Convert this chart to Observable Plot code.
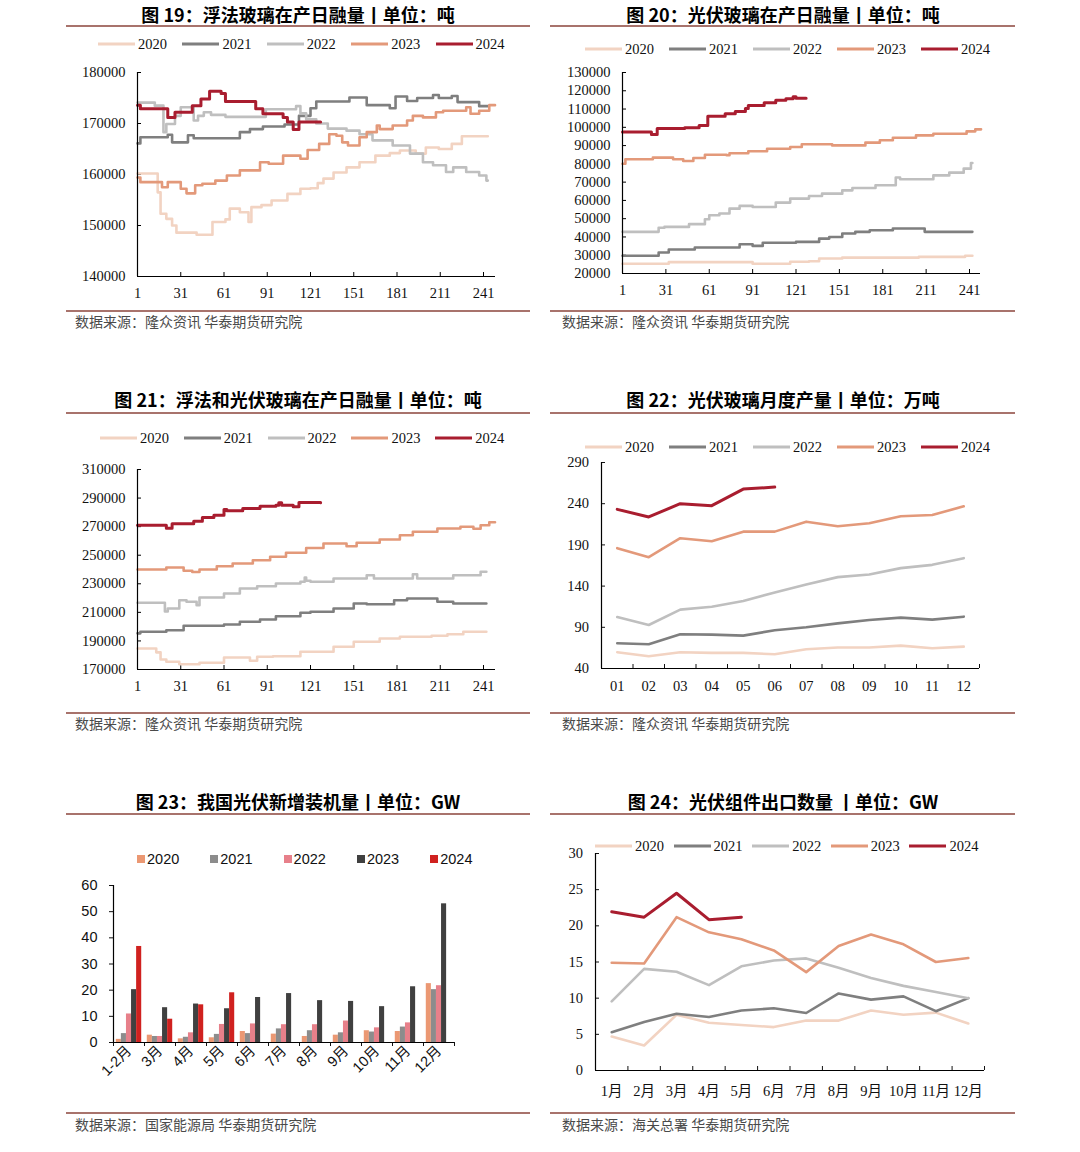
<!DOCTYPE html>
<html><head><meta charset="utf-8">
<script src="https://cdn.jsdelivr.net/npm/d3@7"></script>
<script src="https://cdn.jsdelivr.net/npm/@observablehq/plot@0.6"></script>
<style>
body{margin:0;background:#fff;width:1080px;height:1152px;position:relative;overflow:hidden;font-family:"Noto Sans CJK SC",sans-serif;}
body>div{position:absolute;}
.title{font-weight:700;font-size:18px;color:#000;white-space:nowrap;transform:translate(-50%,-50%);}
.rule{height:2px;background:#A8736C;}
.src{font-size:14px;color:#4a4a4a;white-space:nowrap;transform:translateY(-50%);}
.leg{font-family:"Liberation Serif",serif;font-size:14.5px;color:#111;white-space:nowrap;transform:translateY(-50%);display:flex;align-items:center;}
.leg .sw{display:inline-block;width:37px;height:3px;margin-right:3px;}
.legb{font-family:"Liberation Sans",Arial,sans-serif;font-size:14.5px;color:#111;white-space:nowrap;transform:translateY(-50%);display:flex;align-items:center;}
.legb .sq{display:inline-block;width:8px;height:8px;margin-right:2px;}
</style></head><body>
<script>
// ---------- shared categories ----------
const years = ["2020","2021","2022","2023","2024"];
const lineColors = ["#F2D3C2","#7F7F7F","#BFBFBF","#E3997A","#A91D2F"];
const barColors = ["#EB9873","#8C8C8C","#E7808A","#404040","#D0211F"];
const dayTicks = [1,31,61,91,121,151,181,211,241];

// ---------- 图19 浮法玻璃在产日融量 (day, tons) ----------
const f19_2020 = [[1,160200],[15,156500],[17,152300],[21,151300],[25,150000],[28,148600],[42,148200],[53,150700],[62,151200],[65,153300],[72,152600],[78,150700],[80,153600],[87,154000],[94,154900],[105,156200],[114,157200],[121,157300],[126,158300],[130,159200],[137,160400],[146,161400],[155,162400],[166,163700],[176,164200],[183,164700],[194,164100],[201,165300],[210,165000],[219,166000],[226,167500],[244,167500]];
const f19_2021 = [[1,166100],[3,167300],[22,167800],[25,166300],[36,167700],[40,167100],[72,168300],[79,168900],[88,169400],[103,169800],[113,171500],[121,173000],[125,174300],[148,175100],[160,173600],[176,173000],[180,175300],[188,174400],[195,175000],[206,175600],[210,175000],[219,175400],[223,174200],[238,173400],[244,173400]];
const f19_2022 = [[1,174100],[13,173500],[19,168300],[21,169900],[27,171500],[31,173200],[40,170600],[43,171500],[47,172200],[52,171700],[62,171300],[90,172800],[111,173400],[114,172000],[118,170800],[125,170000],[133,169000],[146,168600],[155,167900],[164,166700],[178,165700],[190,164100],[199,162400],[206,161800],[215,160500],[220,161400],[229,160500],[238,159800],[243,158800],[244,158800]];
const f19_2023 = [[1,159400],[3,158500],[18,157500],[22,158500],[31,157200],[35,156300],[41,157900],[46,158200],[55,158800],[63,159800],[72,160800],[86,162400],[92,162100],[102,163700],[114,163100],[119,164800],[127,166000],[134,167900],[139,167600],[143,166300],[147,165700],[155,167300],[160,168300],[167,169600],[169,168900],[178,169600],[188,170600],[192,171500],[199,171200],[208,172200],[213,172500],[229,173200],[232,171900],[238,172500],[245,173600],[249,173600]];
const f19_2024 = [[1,173600],[3,172900],[22,171200],[27,172200],[39,173500],[45,174800],[51,176300],[59,175900],[62,174300],[83,172900],[88,171900],[102,171200],[105,170300],[109,168800],[113,170300],[128,170300]];
const ticks19 = [140000,150000,160000,170000,180000];

// ---------- 图20 光伏玻璃在产日融量 ----------
const f20_2020 = [[1,25300],[33,26200],[91,25300],[117,26400],[130,26700],[137,28200],[153,28700],[206,29100],[238,29700],[243,29700]];
const f20_2021 = [[1,29700],[26,31500],[33,33100],[51,34200],[82,36000],[91,35100],[98,36800],[121,37300],[137,39100],[144,40000],[153,41900],[162,42800],[172,43700],[188,44600],[210,42800],[243,42800]];
const f20_2022 = [[1,42800],[26,45000],[30,45500],[47,47000],[58,49700],[61,51900],[68,52800],[75,55500],[82,57000],[91,56400],[107,58800],[117,61000],[130,62400],[139,63700],[153,65500],[160,66800],[176,68300],[190,72500],[193,71600],[216,73700],[227,75200],[237,77400],[242,80500],[243,80500]];
const f20_2023 = [[1,80100],[3,82500],[22,83400],[36,82500],[43,81600],[50,83200],[58,85000],[73,84700],[75,85800],[88,86900],[101,88300],[117,89200],[125,90700],[146,90100],[169,91600],[179,92900],[188,94300],[204,95600],[216,96500],[239,97800],[245,98900],[249,98900]];
const f20_2024 = [[1,97500],[21,96100],[25,99300],[44,99800],[54,101000],[60,106000],[72,107400],[79,108700],[86,110300],[88,112000],[99,113500],[107,114800],[114,115700],[119,116700],[121,115900],[128,115900]];
const ticks20 = [20000,30000,40000,50000,60000,70000,80000,90000,100000,110000,120000,130000];

// ---------- 图21 浮法和光伏玻璃在产日融量 ----------
const f21_2020 = [[1,184700],[14,182000],[17,177000],[21,175400],[30,173700],[44,174700],[61,178400],[79,176100],[84,178900],[95,179300],[114,182400],[137,185900],[151,189400],[169,191700],[183,192900],[205,193600],[216,194700],[227,196400],[243,196400]];
const f21_2021 = [[1,195300],[3,196400],[21,197500],[33,200600],[61,201500],[72,203400],[86,205000],[97,207300],[114,209700],[121,210400],[137,212700],[151,216200],[160,215700],[179,218500],[188,219700],[209,217400],[220,216200],[243,216200]];
const f21_2022 = [[1,216700],[20,210600],[22,212700],[30,218500],[35,217400],[42,215000],[44,220400],[61,223200],[72,226700],[84,228300],[97,230200],[114,231400],[117,234400],[118,232100],[121,231400],[137,233700],[160,236000],[165,233700],[192,236700],[195,233700],[220,236000],[239,238400],[243,238400]];
const f21_2023 = [[1,240000],[21,241400],[33,239100],[39,238200],[44,240000],[56,242300],[67,244200],[81,246500],[93,248900],[104,251700],[118,255000],[130,258200],[146,256300],[153,258700],[169,261000],[183,264000],[192,266400],[209,268700],[225,269900],[234,268500],[239,271000],[245,273100],[249,273100]];
const f21_2024 = [[1,271000],[21,268800],[25,272000],[40,273800],[46,276400],[54,278000],[61,282000],[63,281100],[74,282700],[86,284300],[97,285000],[99,286700],[101,285000],[109,283900],[113,286900],[128,286700]];
const ticks21 = [170000,190000,210000,230000,250000,270000,290000,310000];

// ---------- 图22 光伏玻璃月度产量 (万吨) ----------
const months22 = ["01","02","03","04","05","06","07","08","09","10","11","12"];
const m22_2020 = [59.8,54.9,59.8,59,59,57.3,63.4,65.4,65.4,67.8,64.6,66.6];
const m22_2021 = [70.6,69.4,81.5,81.1,79.9,86.4,90,94.8,98.9,101.7,99.3,102.9];
const m22_2022 = [102.5,92.8,111.4,115,121.9,132.3,142,150.9,154.1,161.8,165.8,173.9];
const m22_2023 = [186,175.1,198.1,194.4,206.1,206.1,218.2,212.6,216.2,224.7,226.3,236.8];
const m22_2024 = [233.1,223.9,240,237.6,257.7,260.2];
const ticks22 = [40,90,140,190,240,290];

// ---------- 图23 我国光伏新增装机量 (GW) ----------
const months23 = ["1-2月","3月","4月","5月","6月","7月","8月","9月","10月","11月","12月"];
const b23_2020 = [1.2,2.8,1.4,1.8,4.2,3.2,2.3,2.8,4.5,4.2,22.5];
const b23_2021 = [3.4,2.3,2.0,3.1,3.4,5.2,4.5,3.7,4.0,5.9,20.2];
const b23_2022 = [10.9,2.3,3.7,6.9,7.1,6.8,6.8,8.2,5.6,7.5,21.7];
const b23_2023 = [20.2,13.3,14.7,12.9,17.2,18.7,16.0,15.7,13.7,21.3,53.0];
const b23_2024 = [36.7,8.9,14.4,19.0];
const ticks23 = [0,10,20,30,40,50,60];

// ---------- 图24 光伏组件出口数量 (GW) ----------
const months24 = ["1月","2月","3月","4月","5月","6月","7月","8月","9月","10月","11月","12月"];
const m24_2020 = [4.7,3.45,7.7,6.6,6.3,6.0,6.9,6.9,8.3,7.7,8.0,6.5];
const m24_2021 = [5.3,6.7,7.85,7.4,8.3,8.6,7.95,10.65,9.8,10.25,8.2,10.0];
const m24_2022 = [9.55,14.05,13.65,11.8,14.4,15.2,15.5,14.2,12.8,11.7,10.85,10.0];
const m24_2023 = [14.9,14.8,21.2,19.1,18.15,16.6,13.6,17.2,18.8,17.45,15.0,15.55];
const m24_2024 = [21.95,21.2,24.5,20.85,21.2];
const ticks24 = [0,5,10,15,20,25,30];

// ---------- layout ----------
const layout = {
  p19:{titleX:298,titleY:13.5,left:66,right:530,ruleTop:26,ruleBot:311,srcX:75,srcY:321,legX:98,legPitch:84.4,legY:44,x0:137,x1:495,y0:72,y1:276},
  p20:{titleX:783,titleY:13.5,left:550,right:1015,ruleTop:26,ruleBot:311,srcX:562,srcY:321,legX:585,legPitch:84,legY:49,x0:622,x1:980,y0:72,y1:273},
  p21:{titleX:298,titleY:399,left:66,right:530,ruleTop:413,ruleBot:713,srcX:75,srcY:723,legX:100,legPitch:83.8,legY:438,x0:137,x1:495,y0:469,y1:669},
  p22:{titleX:783,titleY:399,left:550,right:1015,ruleTop:413,ruleBot:713,srcX:562,srcY:723,legX:585,legPitch:84,legY:447,x0:601,x1:979,y0:462,y1:668},
  p23:{titleX:298,titleY:801,left:66,right:530,ruleTop:814,ruleBot:1113,srcX:75,srcY:1124,legX:137,legPitch:73.3,legY:859,x0:113,x1:454,y0:885,y1:1042},
  p24:{titleX:783,titleY:801,left:550,right:1015,ruleTop:814,ruleBot:1113,srcX:562,srcY:1124,legX:595,legPitch:78.6,legY:846,x0:595,x1:984,y0:853,y1:1070}
};

const B = document.body;
function el(tag, cls, style, text){
  const e = document.createElement(tag);
  if (cls) e.className = cls;
  Object.assign(e.style, style || {});
  if (text != null) e.textContent = text;
  B.appendChild(e);
  return e;
}
function frame(L, title, source){
  el("div","title",{left:L.titleX+"px",top:L.titleY+"px"},title);
  el("div","rule",{left:L.left+"px",top:(L.ruleTop-1)+"px",width:(L.right-L.left)+"px"});
  el("div","rule",{left:L.left+"px",top:(L.ruleBot-1)+"px",width:(L.right-L.left)+"px"});
  el("div","src",{left:L.srcX+"px",top:L.srcY+"px"},source);
}
function lineLegend(L){
  years.forEach((y,i)=>{
    const d = el("div","leg",{left:(L.legX+i*L.legPitch)+"px",top:L.legY+"px"});
    const s = document.createElement("span"); s.className="sw"; s.style.background=lineColors[i];
    d.appendChild(s); d.appendChild(document.createTextNode(y));
  });
}
function barLegend(L){
  years.forEach((y,i)=>{
    const d = el("div","legb",{left:(L.legX+i*L.legPitch)+"px",top:L.legY+"px"});
    const s = document.createElement("span"); s.className="sq"; s.style.background=barColors[i];
    d.appendChild(s); d.appendChild(document.createTextNode(y));
  });
}
const M = {l:80,r:20,t:12,b:70};
function place(svg, L){
  const d = el("div",null,{left:(L.x0-M.l)+"px",top:(L.y0-M.t)+"px"});
  d.appendChild(svg);
}
function dims(L){
  return {width:(L.x1-L.x0)+M.l+M.r, height:(L.y1-L.y0)+M.t+M.b, marginLeft:M.l, marginRight:M.r, marginTop:M.t, marginBottom:M.b};
}
const serifStyle = {fontFamily:"'Liberation Serif', 'Noto Sans CJK SC', serif", fontSize:"14.5px", color:"#111", background:"transparent", overflow:"visible"};
const fmt = d => String(d);

function dailyChart(key, series, yDomain, yTicks, dayPx){
  const L = layout[key];
  const xEnd = 1 + (L.x1 - L.x0)/dayPx;
  const chart = Plot.plot({
    ...dims(L),
    style: serifStyle,
    x:{domain:[1,xEnd]},
    y:{domain:yDomain},
    marks:[
      Plot.axisY({ticks:yTicks, tickSize:-4, tickPadding:16, tickFormat:fmt, label:null, stroke:"#000"}),
      Plot.axisX({ticks:dayTicks, tickSize:-4, tickPadding:15.5, tickFormat:fmt, label:null, stroke:"#000"}),
      ...series.map((s,i)=>Plot.line(s,{x:d=>d[0], y:d=>d[1], curve:"step-after", stroke:lineColors[i], strokeWidth:i===4?3:2.6, strokeLinejoin:"round"})),
      Plot.ruleX([1],{stroke:"#000", strokeWidth:1.2}),
      Plot.ruleY([yDomain[0]],{stroke:"#000", strokeWidth:1.2})
    ]
  });
  place(chart, L);
}

function monthlyChart(key, series, labels, yDomain, yTicks, labPad){
  const L = layout[key];
  const n = labels.length;
  const mids = labels.map((_,i)=>i+0.5);
  const bounds = d3.range(n+1);
  const chart = Plot.plot({
    ...dims(L),
    style: serifStyle,
    x:{domain:[0,n]},
    y:{domain:yDomain},
    marks:[
      Plot.axisY({ticks:yTicks, tickSize:-4, tickPadding:16.5, tickFormat:fmt, label:null}),
      Plot.axisX({ticks:bounds, tickSize:-4, tickFormat:()=>"", label:null}),
      Plot.axisX({ticks:mids, tickSize:0, tickPadding:labPad, tickFormat:d=>labels[Math.floor(d)], label:null}),
      ...series.map((s,i)=>Plot.line(s,{x:(d,j)=>j+0.5, y:d=>d, stroke:lineColors[i], strokeWidth:i===4?3:2.6, strokeLinejoin:"round"})),
      Plot.ruleX([0],{stroke:"#000", strokeWidth:1.2}),
      Plot.ruleY([yDomain[0]],{stroke:"#000", strokeWidth:1.2})
    ]
  });
  place(chart, L);
}

function barChart(key){
  const L = layout[key];
  const n = months23.length;
  const bars = [b23_2020,b23_2021,b23_2022,b23_2023,b23_2024];
  const off = 0.09, bw = 0.164;
  const chart = Plot.plot({
    ...dims(L),
    style:{fontFamily:"'Liberation Sans', Arial, 'Noto Sans CJK SC', sans-serif", fontSize:"14.5px", color:"#111", background:"transparent", overflow:"visible"},
    x:{domain:[0,n]},
    y:{domain:[0,60]},
    marks:[
      ...bars.map((s,k)=>Plot.rectY(s,{x1:(d,i)=>i+off+k*bw, x2:(d,i)=>i+off+(k+1)*bw, y1:0, y2:d=>d, fill:barColors[k]})),
      Plot.axisY({ticks:ticks23, tickSize:4, tickPadding:12, tickFormat:fmt, label:null}),
      Plot.axisX({ticks:d3.range(n+1), tickSize:4, tickFormat:()=>"", label:null}),
      Plot.axisX({ticks:months23.map((_,i)=>i+0.5), tickSize:0, tickPadding:6, tickRotate:-45, tickFormat:d=>months23[Math.floor(d)], label:null}),
      Plot.ruleX([0],{stroke:"#000", strokeWidth:1.2}),
      Plot.ruleY([0],{stroke:"#000", strokeWidth:1.2})
    ]
  });
  place(chart, L);
}

// ---------- build ----------
frame(layout.p19, "图 19：浮法玻璃在产日融量丨单位：吨", "数据来源：隆众资讯 华泰期货研究院");
lineLegend(layout.p19);
dailyChart("p19", [f19_2020,f19_2021,f19_2022,f19_2023,f19_2024], [140000,180000], ticks19, (483-137)/240);

frame(layout.p20, "图 20：光伏玻璃在产日融量丨单位：吨", "数据来源：隆众资讯 华泰期货研究院");
lineLegend(layout.p20);
dailyChart("p20", [f20_2020,f20_2021,f20_2022,f20_2023,f20_2024], [20000,130000], ticks20, (969-622)/240);

frame(layout.p21, "图 21：浮法和光伏玻璃在产日融量丨单位：吨", "数据来源：隆众资讯 华泰期货研究院");
lineLegend(layout.p21);
dailyChart("p21", [f21_2020,f21_2021,f21_2022,f21_2023,f21_2024], [170000,310000], ticks21, (483-137)/240);

frame(layout.p22, "图 22：光伏玻璃月度产量丨单位：万吨", "数据来源：隆众资讯 华泰期货研究院");
lineLegend(layout.p22);
monthlyChart("p22", [m22_2020,m22_2021,m22_2022,m22_2023,m22_2024], months22, [40,290], ticks22, 12.5);

frame(layout.p23, "图 23：我国光伏新增装机量丨单位：GW", "数据来源：国家能源局 华泰期货研究院");
barLegend(layout.p23);
barChart("p23");

frame(layout.p24, "图 24：光伏组件出口数量 丨单位：GW", "数据来源：海关总署 华泰期货研究院");
lineLegend(layout.p24);
monthlyChart("p24", [m24_2020,m24_2021,m24_2022,m24_2023,m24_2024], months24, [0,30], ticks24, 15.5);
</script>
</body></html>
